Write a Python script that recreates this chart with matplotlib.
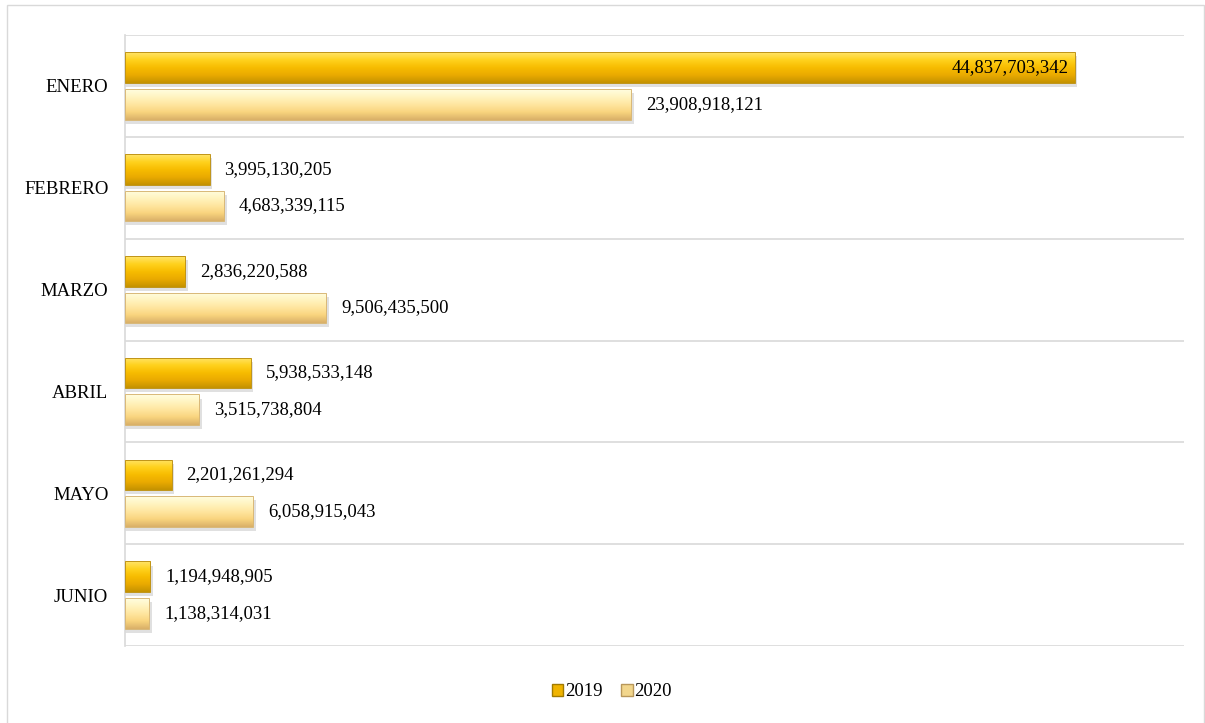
import matplotlib
matplotlib.use("Agg")
import matplotlib.pyplot as plt
import numpy as np
from matplotlib.colors import LinearSegmentedColormap
from matplotlib.patches import Rectangle, Patch

months = ["ENERO", "FEBRERO", "MARZO", "ABRIL", "MAYO", "JUNIO"]
values_2019 = [44837703342, 3995130205, 2836220588, 5938533148, 2201261294, 1194948905]
values_2020 = [23908918121, 4683339115, 9506435500, 3515738804, 6058915043, 1138314031]
series_names = ["2019", "2020"]

plt.rcParams['font.family'] = ['Liberation Serif', 'DejaVu Serif']

fig = plt.figure(figsize=(12.05, 7.23), dpi=100)
ax = fig.add_axes([125/1205, 1-646/723, (1184-125)/1205, (646-35)/723])

# outer figure border
fig.add_artist(Rectangle((7/1205, -0.01), 1-8/1205, 1-5/723 + 0.01, transform=fig.transFigure,
                         fill=False, edgecolor='#d9d9d9', linewidth=1.0))

cmap19 = LinearSegmentedColormap.from_list('c19', ['#FFE46A', '#FFD21E', '#F7BC00', '#EAAA00', '#C49200'])
cmap20 = LinearSegmentedColormap.from_list('c20', ['#FFFDE0', '#FFF4C0', '#FFE6A0', '#F9D47E', '#D9B068'])

ypos = np.arange(len(months))
h = 0.30
off = 0.18
grad = np.linspace(0, 1, 64).reshape(-1, 1)

def draw(vals, dy, cmap, edge):
    bars = ax.barh(ypos + dy, vals, height=h, color='none', edgecolor='none', zorder=3)
    for b in bars:
        x0, y0 = b.get_x(), b.get_y()
        w, hh = b.get_width(), b.get_height()
        sh = Rectangle((x0, y0 + 0.04), w + 0.12e9, hh, facecolor='#000000',
                       alpha=0.12, edgecolor='none', zorder=2)
        ax.add_patch(sh)
        im = ax.imshow(grad, cmap=cmap, aspect='auto', extent=(x0, x0 + w, y0 + hh, y0),
                       zorder=3, interpolation='bicubic')
        im.set_clip_path(b)
        r = Rectangle((x0, y0), w, hh, fill=False, edgecolor=edge, linewidth=0.7, zorder=4)
        ax.add_patch(r)
    return bars

draw(values_2019, -off, cmap19, '#C09418')
draw(values_2020, off, cmap20, '#D8B878')

xmax = 50e9
fs = 13.5
for i, v in enumerate(values_2019):
    if v > 0.6 * xmax:
        ax.text(v - 0.3e9, ypos[i] - off, f"{v:,}", ha='right', va='center', fontsize=fs, zorder=5)
    else:
        ax.text(v + 0.7e9, ypos[i] - off, f"{v:,}", ha='left', va='center', fontsize=fs, zorder=5)
for i, v in enumerate(values_2020):
    ax.text(v + 0.7e9, ypos[i] + off, f"{v:,}", ha='left', va='center', fontsize=fs, zorder=5)

ax.set_xlim(0, xmax)
ax.set_ylim(len(months) - 0.5, -0.5)
ax.set_yticks(ypos)
ax.set_yticklabels(months, fontsize=fs)
ax.tick_params(axis='y', length=0, pad=12)
ax.set_xticks([])
for y in np.arange(-0.5, len(months), 1.0):
    ax.axhline(y, color='#d9d9d9', linewidth=1.2, zorder=1)
for s in ['top', 'right', 'bottom']:
    ax.spines[s].set_visible(False)
ax.spines['left'].set_color('#d9d9d9')
ax.spines['left'].set_linewidth(1.2)

handles = [Patch(facecolor='#F0B400', edgecolor='#A07A00'),
           Patch(facecolor='#F2D68C', edgecolor='#B8975A')]
fig.legend(handles, series_names, loc='center', bbox_to_anchor=(612/1205, 1-692/723),
           ncol=2, frameon=False, fontsize=fs, handlelength=0.6, handleheight=0.6,
           handletextpad=0.1, columnspacing=1.0)

fig.savefig("out.png", dpi=100)
